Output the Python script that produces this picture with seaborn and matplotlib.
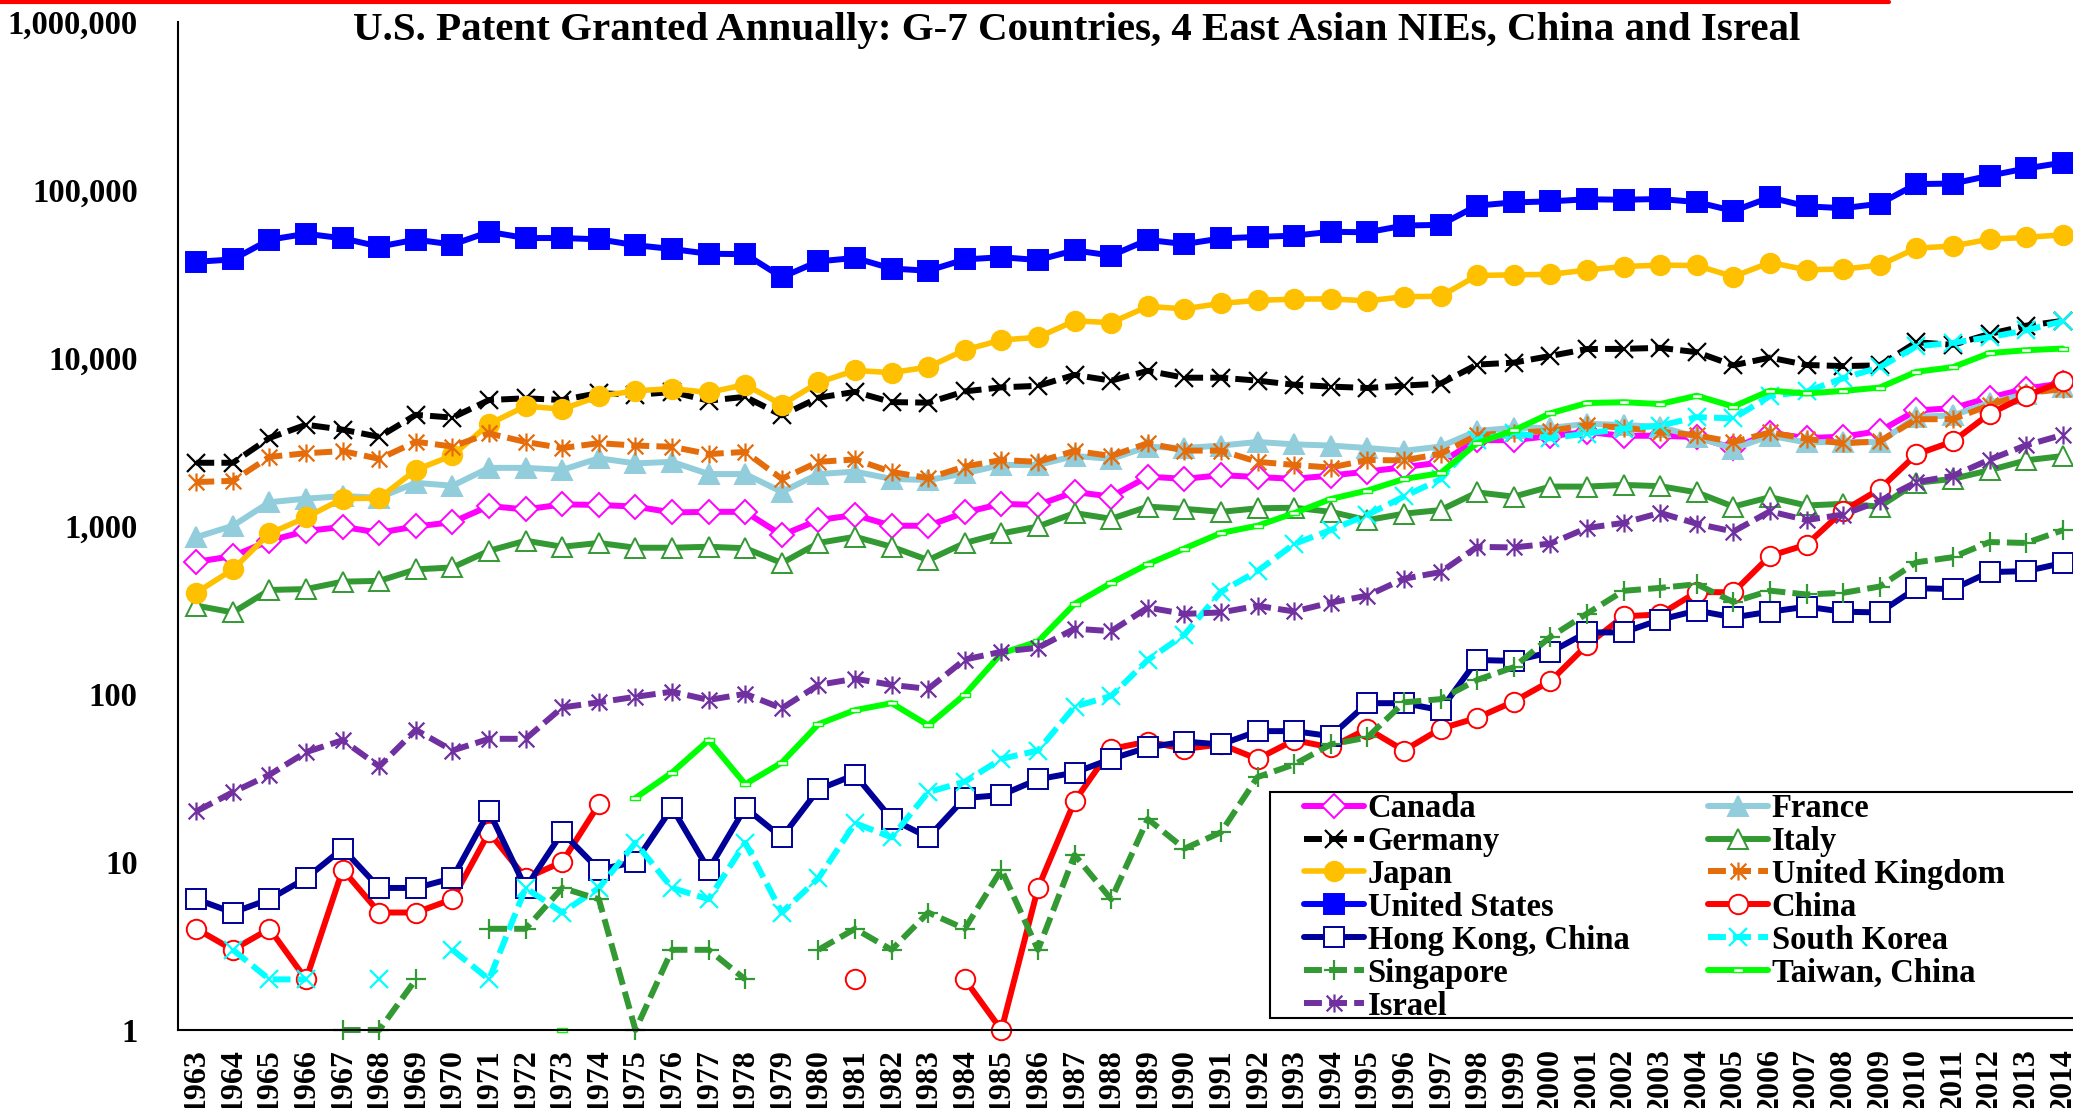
import numpy as np
import pandas as pd
import matplotlib
matplotlib.use("Agg")
import matplotlib.pyplot as plt
import seaborn as sns
from matplotlib.lines import Line2D
from matplotlib.patches import Rectangle
from matplotlib.path import Path
from matplotlib.ticker import FixedLocator, FixedFormatter, FuncFormatter, NullFormatter, NullLocator

N = np.nan
years = list(range(1963, 2015))

# patents granted per year, 1963..2014 (log scale)
canada = [610, 660, 815, 930, 985, 910, 990, 1050, 1310, 1250,
          1340, 1330, 1300, 1200, 1210, 1210, 880, 1080, 1160, 1000,
          1000, 1200, 1350, 1330, 1590, 1490, 1960, 1900, 2000, 1950,
          1900, 1990, 2100, 2230, 2380, 3230, 3230, 3420, 3610, 3430,
          3430, 3370, 2890, 3570, 3320, 3390, 3660, 4850, 5010, 5780,
          6550, 7040]
france = [855, 1000, 1380, 1450, 1500, 1470, 1800, 1730, 2210, 2210,
          2150, 2520, 2350, 2400, 2030, 2030, 1590, 2030, 2100, 1900,
          1870, 2050, 2300, 2300, 2600, 2500, 2950, 2900, 3000, 3150,
          3050, 3000, 2900, 2790, 2960, 3670, 3820, 3820, 4040, 3980,
          3870, 3380, 2870, 3430, 3130, 3160, 3140, 4450, 4530, 5390,
          6080, 6690]
germany = [2370, 2370, 3330, 3990, 3730, 3380, 4570, 4400, 5600, 5730,
           5600, 6160, 6000, 6250, 5550, 5850, 4540, 5780, 6260, 5440,
           5400, 6300, 6660, 6800, 7900, 7300, 8350, 7600, 7600, 7300,
           6900, 6730, 6600, 6820, 7010, 9100, 9340, 10240, 11260, 11280,
           11440, 10780, 9010, 10010, 9050, 8910, 9000, 12360, 11920, 13840,
           15500, 16550]
italy = [335, 305, 415, 420, 465, 470, 550, 565, 710, 815,
         750, 790, 740, 740, 750, 735, 600, 790, 860, 750,
         625, 790, 900, 990, 1190, 1100, 1300, 1260, 1210, 1270,
         1280, 1210, 1080, 1180, 1240, 1580, 1490, 1710, 1710, 1750,
         1720, 1580, 1300, 1480, 1320, 1350, 1300, 1800, 1900, 2140,
         2450, 2600]
japan = [400, 550, 900, 1120, 1450, 1460, 2150, 2620, 4030, 5150,
         4940, 5890, 6350, 6540, 6210, 6910, 5250, 7120, 8390, 8150,
         8790, 11110, 12750, 13210, 16560, 16160, 20170, 19530, 21030, 21930,
         22290, 22380, 21760, 23050, 23180, 30840, 31100, 31300, 33220, 34860,
         35520, 35350, 30340, 36810, 33350, 33680, 35500, 44810, 46140, 50680,
         51920, 53850]
uk = [1820, 1850, 2570, 2700, 2780, 2500, 3160, 2960, 3540, 3150,
      2900, 3100, 3000, 2950, 2670, 2750, 1900, 2400, 2480, 2090,
      1920, 2250, 2460, 2400, 2790, 2600, 3100, 2800, 2800, 2400,
      2300, 2220, 2460, 2450, 2680, 3460, 3570, 3670, 3970, 3830,
      3630, 3450, 3150, 3590, 3290, 3090, 3180, 4300, 4310, 5210,
      6160, 6490]
usa = [37200, 38400, 50300, 54600, 51300, 45800, 50400, 47100, 56000, 51500,
       51500, 50600, 46700, 44300, 41500, 41300, 30100, 37400, 39200, 33900,
       32900, 38400, 39600, 38100, 43500, 40500, 50200, 47400, 51200, 52300,
       53200, 56100, 55700, 61100, 61700, 80300, 83900, 85100, 87600, 87000,
       87900, 84300, 74600, 89800, 79500, 77500, 82400, 107800, 108600, 121000,
       133600, 144600]
china = [4, 3, 4, 2, 9, 5, 5, 6, 15, 8,
         10, 22, N, N, N, N, N, N, 2, N,
         N, 2, 1, 7, 23, 47, 52, 47, 50, 41,
         53, 48, 62, 46, 62, 72, 90, 119, 195, 289,
         297, 403, 402, 661, 772, 1225, 1655, 2657, 3174, 4637,
         5928, 7236]
hong_kong = [6, 5, 6, 8, 12, 7, 7, 8, 20, 7,
             15, 9, 10, 21, 9, 21, 14, 27, 33, 18,
             14, 24, 25, 31, 34, 41, 48, 52, 50, 60,
             60, 56, 88, 88, 80, 159, 157, 177, 232, 232,
             276, 313, 285, 308, 330, 308, 305, 425, 420, 530,
             537, 600]
south_korea = [N, 3, 2, 2, N, 2, N, 3, 2, 7,
               5, 7, 13, 7, 6, 13, 5, 8, 17, 14,
               26, 30, 41, 46, 84, 97, 159, 225, 405, 538,
               779, 943, 1161, 1493, 1891, 3259, 3562, 3314, 3538, 3786,
               3944, 4428, 4352, 5908, 6295, 7548, 8762, 11671, 12262, 13233,
               14548, 16469]
singapore = [N, N, N, N, 1, 1, 2, N, 4, 4,
             7, 6, 1, 3, 3, 2, N, 3, 4, 3,
             5, 4, 9, 3, 11, 6, 18, 12, 15, 32,
             38, 50, 55, 89, 93, 121, 144, 218, 300, 410,
             427, 449, 352, 411, 390, 399, 435, 606, 650, 800,
             790, 940]
taiwan = [N, N, N, N, N, N, N, N, N, N,
          1, N, 24, 34, 53, 29, 39, 66, 80, 88,
          65, 99, 174, 205, 343, 457, 591, 732, 906, 1001,
          1189, 1443, 1620, 1897, 2057, 3100, 3693, 4667, 5371, 5431,
          5298, 5938, 5118, 6361, 6128, 6339, 6642, 8238, 8781, 10646,
          11071, 11332]
israel = [20, 26, 33, 45, 53, 37, 61, 46, 54, 54,
          83, 89, 96, 103, 92, 100, 82, 113, 123, 113,
          107, 160, 178, 188, 244, 236, 326, 299, 305, 334,
          309, 349, 384, 484, 530, 749, 743, 783, 970, 1040,
          1193, 1028, 924, 1218, 1081, 1166, 1404, 1819, 1981, 2474,
          3012, 3472]

series = {
    "Canada": canada, "France": france, "Germany": germany, "Italy": italy,
    "Japan": japan, "United Kingdom": uk, "United States": usa,
    "China": china, "Hong Kong, China": hong_kong, "South Korea": south_korea,
    "Singapore": singapore, "Taiwan, China": taiwan, "Israel": israel,
}

W, H = 2073, 1108

sns.set_style("white")
plt.rcParams["font.family"] = ["Liberation Serif", "DejaVu Serif"]
plt.rcParams["font.weight"] = "bold"
plt.rcParams["text.color"] = "black"
plt.rcParams["xtick.color"] = "black"
plt.rcParams["ytick.color"] = "black"
plt.rcParams["axes.edgecolor"] = "black"

# Excel-like marker shapes
asterisk = Path([(-1, -1), (1, 1), (-1, 1), (1, -1), (0, -1.15), (0, 1.15)],
                [Path.MOVETO, Path.LINETO] * 3)
bar = Path([(-1, -0.45), (1, -0.45), (1, 0.45), (-1, 0.45), (-1, -0.45)],
           [Path.MOVETO, Path.LINETO, Path.LINETO, Path.LINETO, Path.CLOSEPOLY])
dash = (0, (3, 1.2))


def style(color, marker, ms, face, ls="-", lw=4.3, mew=1.4):
    return dict(color=color, linewidth=lw, linestyle=ls, marker=marker,
                markersize=ms, markerfacecolor=face, markeredgecolor=color,
                markeredgewidth=mew)


styles = {
    "Canada": style("#FF00FF", "D", 12, "white"),
    "France": style("#92CDDC", "^", 14, "#92CDDC"),
    "Germany": style("black", "x", 13, "none", ls=dash, mew=1.6),
    "Italy": style("#339933", "^", 14, "white"),
    "Japan": style("#FFC000", "o", 14, "#FFC000", lw=4.0),
    "United Kingdom": style("#E46C0A", asterisk, 13, "none", ls=dash, mew=1.6),
    "United States": style("#0000FF", "s", 14, "#0000FF"),
    "China": style("#FF0000", "o", 14, "white"),
    "Hong Kong, China": style("#000099", "s", 14, "white"),
    "South Korea": style("#00FFFF", "x", 13, "none", ls=dash, mew=1.6),
    "Singapore": style("#339933", "+", 14, "none", ls=dash, mew=1.6),
    "Taiwan, China": style("#00FF00", bar, 7.5, "white", mew=1.0),
    "Israel": style("#7030A0", asterisk, 13, "none", ls=dash, mew=1.6),
}

fig = plt.figure(figsize=(W / 100, H / 100), dpi=100)
ax = fig.add_axes([178 / W, 78 / H, (2081 - 178) / W, (1030 - 21.5) / H])
ax.set_yscale("log")

for name, vals in series.items():
    d = pd.DataFrame({"year": years, "value": vals})
    d["seg"] = d["value"].isna().cumsum()   # break the line at missing years
    d = d.dropna()
    sns.lineplot(data=d, x="year", y="value", units="seg", estimator=None,
                 ax=ax, clip_on=False, **styles[name])

ax.set_xlabel("")
ax.set_ylabel("")
ax.set_xlim(1962.5, 2014.5)
ax.set_ylim(1, 1e6)

# x: ticks between years, labels at year centres
ax.xaxis.set_major_locator(FixedLocator(np.arange(1962.5, 2015, 1.0)))
ax.xaxis.set_major_formatter(NullFormatter())
ax.xaxis.set_minor_locator(FixedLocator(years))
ax.xaxis.set_minor_formatter(FixedFormatter([str(y) for y in years]))
ax.tick_params(axis="x", which="major", direction="in", length=6, width=1.3)
ax.tick_params(axis="x", which="minor", length=0, pad=13, labelsize=23,
               labelrotation=90)

ax.yaxis.set_major_locator(FixedLocator([1, 10, 100, 1e3, 1e4, 1e5, 1e6]))
ax.yaxis.set_minor_locator(NullLocator())
ax.yaxis.set_major_formatter(FuncFormatter(lambda v, p: f"{int(round(v)):,}"))
ax.tick_params(axis="y", direction="in", length=6, width=1.3, pad=29,
               labelsize=23.5)

for s in ["top", "right"]:
    ax.spines[s].set_visible(False)
for s in ["left", "bottom"]:
    ax.spines[s].set_linewidth(1.5)
    ax.spines[s].set_color("black")

# legend: white box with two columns, filled row by row
frame = Rectangle((1270 / W, 1 - 1018 / H), (2090 - 1270) / W, 226 / H,
                  transform=fig.transFigure, facecolor="white",
                  edgecolor="black", linewidth=1.5, zorder=4.5, clip_on=False)
ax.add_artist(frame)

col1 = ["Canada", "Germany", "Japan", "United States", "Hong Kong, China",
        "Singapore", "Israel"]
col2 = ["France", "Italy", "United Kingdom", "China", "South Korea",
        "Taiwan, China"]


def make_legend(names, x):
    handles = [Line2D([], [], **styles[n]) for n in names]
    return ax.legend(handles, names, loc="upper left",
                     bbox_to_anchor=(x / W, 1 - 793 / H),
                     bbox_transform=fig.transFigure, frameon=False,
                     fontsize=23.5, handlelength=1.85, handletextpad=0.1,
                     borderpad=0, borderaxespad=0, labelspacing=0.06,
                     numpoints=1)


leg1 = make_legend(col1, 1304)
ax.add_artist(leg1)
leg2 = make_legend(col2, 1708)

fig.text(353 / W, 1 - 40 / H,
         "U.S. Patent Granted Annually: G-7 Countries, 4 East Asian NIEs, China and Isreal",
         ha="left", va="baseline", fontsize=29.5, fontweight="bold")
fig.add_artist(Line2D([0, 1889 / W], [1 - 2 / H, 1 - 2 / H],
                      transform=fig.transFigure, color="red", linewidth=3))

fig.savefig("out.png", dpi=100)
